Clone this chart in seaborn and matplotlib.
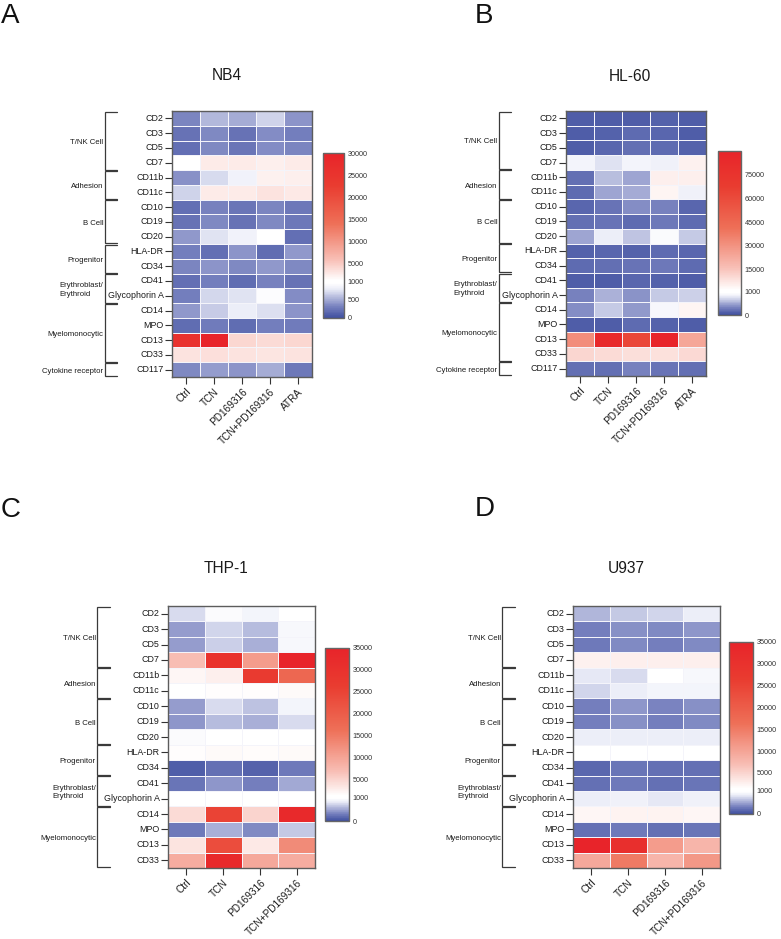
import numpy as np
import pandas as pd
import seaborn as sns
import matplotlib.pyplot as plt
from matplotlib.colors import FuncNorm, LinearSegmentedColormap
from matplotlib.transforms import blended_transform_factory

sns.set_theme(style="white")
plt.rcParams['font.family'] = ['Liberation Sans', 'DejaVu Sans']

markers_all = ['CD2', 'CD3', 'CD5', 'CD7', 'CD11b', 'CD11c', 'CD10', 'CD19', 'CD20', 'HLA-DR',
               'CD34', 'CD41', 'Glycophorin A', 'CD14', 'MPO', 'CD13', 'CD33', 'CD117']
markers_short = markers_all[:-1]
treat_five = ['Ctrl', 'TCN', 'PD169316', 'TCN+PD169316', 'ATRA']
treat_four = ['Ctrl', 'TCN', 'PD169316', 'TCN+PD169316']

# (nombre, fila inicial, fila final)
grupos = [('T/NK Cell', 0, 4), ('Adhesion', 4, 6), ('B Cell', 6, 9), ('Progenitor', 9, 11),
          ('Erythroblast/\nErythroid', 11, 13), ('Myelomonocytic', 13, 17), ('Cytokine receptor', 17, 18)]

nb4 = [
    [330, 560, 500, 680, 400],
    [220, 350, 230, 370, 300],
    [210, 350, 240, 370, 320],
    [1000, 2700, 2700, 2500, 2700],
    [390, 720, 840, 2300, 2500],
    [680, 2700, 2800, 3300, 2900],
    [210, 310, 240, 330, 250],
    [220, 350, 230, 350, 260],
    [420, 760, 850, 1000, 200],
    [290, 200, 400, 190, 410],
    [320, 400, 340, 420, 340],
    [210, 300, 190, 310, 230],
    [290, 700, 760, 930, 370],
    [420, 640, 800, 740, 400],
    [190, 270, 180, 300, 280],
    [25500, 30000, 4200, 4000, 4200],
    [3400, 3600, 3400, 3200, 3300],
    [340, 440, 400, 500, 260],
]
hl60 = [
    [110, 110, 100, 130, 110],
    [110, 120, 170, 150, 110],
    [110, 140, 210, 170, 120],
    [880, 760, 860, 840, 5000],
    [220, 600, 470, 5500, 5500],
    [190, 470, 510, 4500, 840],
    [150, 230, 370, 330, 160],
    [220, 240, 180, 260, 170],
    [480, 810, 620, 930, 650],
    [130, 150, 130, 190, 150],
    [190, 210, 240, 260, 190],
    [110, 90, 150, 120, 100],
    [310, 540, 400, 640, 680],
    [370, 650, 420, 900, 4500],
    [100, 90, 170, 130, 110],
    [32000, 85000, 62000, 90000, 24000],
    [11000, 10000, 9000, 8800, 10500],
    [220, 210, 310, 240, 210],
]
thp1 = [
    [730, 930, 860, 1020],
    [430, 700, 580, 910],
    [430, 680, 530, 890],
    [7000, 30000, 11000, 35000],
    [2200, 2700, 27000, 18000],
    [1200, 1500, 1600, 1900],
    [440, 720, 620, 860],
    [400, 590, 520, 730],
    [920, 1030, 1020, 1030],
    [1500, 1900, 1700, 1900],
    [110, 220, 140, 260],
    [240, 420, 300, 490],
    [1000, 1080, 1000, 1050],
    [4400, 25000, 5000, 33000],
    [270, 540, 350, 650],
    [3700, 23000, 3200, 13000],
    [9000, 33000, 9500, 9000],
]
u937 = [
    [550, 640, 700, 800],
    [300, 390, 360, 400],
    [280, 370, 300, 350],
    [2600, 2800, 2700, 2700],
    [780, 720, 1050, 900],
    [710, 800, 860, 860],
    [310, 400, 330, 390],
    [290, 390, 310, 360],
    [810, 800, 810, 800],
    [1030, 1150, 1020, 1020],
    [170, 230, 210, 220],
    [220, 270, 220, 230],
    [800, 850, 790, 830],
    [2100, 2500, 2400, 2200],
    [210, 280, 220, 240],
    [35000, 31000, 11000, 8000],
    [9500, 15000, 8000, 11500],
]

ticks_a = [0, 500, 1000, 5000, 10000, 15000, 20000, 25000, 30000]
ticks_b = [0, 1000, 15000, 30000, 45000, 60000, 75000]
ticks_c = [0, 1000, 5000, 10000, 15000, 20000, 25000, 30000, 35000]

W, H = 781, 939


def caja(x0, y0, x1, y1):
    # pixeles de la imagen a coordenadas de figura
    return [x0 / W, 1 - y1 / H, (x1 - x0) / W, (y1 - y0) / H]


def hacer_norm(xs, ys):
    return FuncNorm((lambda v: np.interp(v, xs, ys), lambda v: np.interp(v, ys, xs)),
                    vmin=xs[0], vmax=xs[-1])


def hacer_cmap(blanco):
    resto = 1 - blanco
    return LinearSegmentedColormap.from_list('bwr_panel', [
        (0, '#4050a0'),
        (blanco * 0.3, '#7680be'),
        (blanco * 0.8, '#eceef8'),
        (blanco * 0.95, '#ffffff'),
        (blanco + resto * 0.01, '#ffffff'),
        (blanco + resto * 0.17, '#f8bfb6'),
        (blanco + resto * 0.45, '#ee7058'),
        (blanco + resto * 0.75, '#e93c30'),
        (1, '#e8242a'),
    ])


fig = plt.figure(figsize=(W / 100, H / 100), dpi=100)


def panel(letra, letra_xy, titulo, titulo_xy, datos, filas, columnas, caja_ax, caja_cb, ticks, xs, ys):
    ax = fig.add_axes(caja(*caja_ax))
    cax = fig.add_axes(caja(*caja_cb))
    df = pd.DataFrame(datos, index=filas, columns=columnas)
    sns.heatmap(df, ax=ax, cbar_ax=cax, cmap=hacer_cmap(ys[1]), norm=hacer_norm(xs, ys),
                linewidths=0.4, linecolor='#f4f4fa', xticklabels=True, yticklabels=True)

    for lado in ax.spines.values():
        lado.set_visible(True)
        lado.set_color('#5c5c5c')
        lado.set_linewidth(1.0)
    ax.tick_params(axis='both', length=5, width=0.8, color='#333333', pad=1, labelsize=6.4,
                   labelcolor='#1a1a1a', bottom=True, left=True)
    ax.tick_params(axis='x', labelsize=7.2, pad=2)
    ax.set_yticklabels(filas, rotation=0)
    ax.set_xticklabels(columnas, rotation=45, ha='right', rotation_mode='anchor')
    ax.set_xlabel('')
    ax.set_ylabel('')

    # corchetes de grupos
    tr = blended_transform_factory(ax.transAxes, ax.transData)
    for nombre, ini, fin in grupos:
        if ini >= len(filas):
            continue
        ax.plot([-0.395, -0.48, -0.48, -0.395], [ini + 0.04, ini + 0.04, fin - 0.04, fin - 0.04],
                transform=tr, clip_on=False, color='#3a3a3a', lw=0.9, solid_joinstyle='miter')
        ax.text(-0.49, (ini + fin) / 2 + 0.1, nombre, transform=tr, ha='right', va='center',
                ma='left', fontsize=5.6, color='#1a1a1a', linespacing=1.35)

    cb = ax.collections[0].colorbar
    cb.minorticks_off()
    cb.set_ticks(ticks, labels=[str(t) for t in ticks])
    cb.ax.tick_params(direction='in', left=True, right=True, length=4, width=0.7, color='#444444',
                      labelsize=5.2, labelcolor='#333333', pad=2.5)
    cb.outline.set_edgecolor('#666666')
    cb.outline.set_linewidth(1.0)

    fig.text(titulo_xy[0] / W, 1 - titulo_xy[1] / H, titulo, fontsize=11.2, color='#1a1a1a',
             ha='center', va='baseline')
    fig.text(letra_xy[0] / W, 1 - letra_xy[1] / H, letra, fontsize=20, color='#111111', va='baseline')


panel('A', (1, 23), 'NB4', (227, 80), nb4, markers_all, treat_five, (172, 111, 312, 377), (323, 153, 344, 318),
      ticks_a, [0, 1000, 30000], [0, 0.22, 1])
panel('B', (475, 23), 'HL-60', (630, 81), hl60, markers_all, treat_five, (566, 111, 706, 376), (718, 151, 741, 315),
      ticks_b, [0, 1000, 90000], [0, 0.142, 1])
panel('C', (1, 517), 'THP-1', (226, 573), thp1, markers_short, treat_four, (168, 606, 315, 868), (325, 648, 349, 821),
      ticks_c, [0, 1000, 35000], [0, 0.137, 1])
panel('D', (475, 516), 'U937', (626, 573), u937, markers_short, treat_four, (573, 606, 720, 868), (729, 642, 753, 814),
      ticks_c, [0, 1000, 35000], [0, 0.137, 1])

plt.savefig('out.png', dpi=100)
